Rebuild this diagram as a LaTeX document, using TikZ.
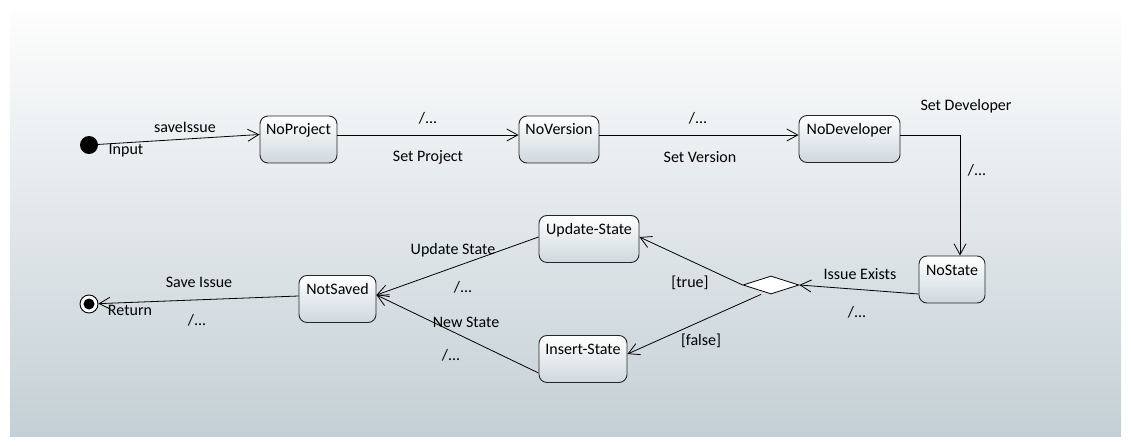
\documentclass[tikz,border=0pt]{standalone}
\usepackage{fontspec}
\setmainfont{Carlito}
\usetikzlibrary{arrows.meta,shapes.geometric}
\tikzset{>={Straight Barb[length=11pt,width=12pt]}}
\definecolor{bgtop}{RGB}{253,253,253}
\definecolor{bgbot}{RGB}{196,208,214}
\definecolor{boxbot}{RGB}{206,216,221}
\tikzset{
  statebox/.style={draw=black!85,line width=0.9pt,rounded corners=8pt,top color=white,bottom color=boxbot,
    inner xsep=0pt,inner ysep=4pt,text height=15pt,text depth=24pt},
  choice/.style={diamond,draw,fill=white,line width=0.8pt,minimum width=56pt,minimum height=18pt,inner sep=0pt},
  trans/.style={->,line width=0.8pt},
  lbl/.style={inner sep=0pt}
}

\begin{document}
\begin{tikzpicture}[x=1pt,y=-1pt,font=\fontsize{16}{19}\selectfont]

\useasboundingbox (0,0) rectangle (1131,446);
\shade[top color=bgtop,bottom color=bgbot] (10,13) rectangle (1121,436);

  % states
  \node[circle,fill=black,minimum size=18pt,inner sep=0pt] (init) at (89,145) {};
  \node[statebox,minimum width=77pt] (noproject) at (298.5,139.5) {NoProject};
  \node[statebox,minimum width=80pt] (noversion) at (559,139.5) {NoVersion};
  \node[statebox,minimum width=101pt] (nodev) at (849.5,139) {NoDeveloper};
  \node[statebox,minimum width=66pt] (nostate) at (952,279.5) {NoState};
  \node[choice] (dec) at (771,285) {};
  \node[statebox,minimum width=100pt] (update) at (589,239) {Update-State};
  \node[statebox,minimum width=88pt] (insert) at (583,359) {Insert-State};
  \node[statebox,minimum width=77pt] (notsaved) at (337.5,299) {NotSaved};
  \node[circle,draw,fill=white,line width=0.9pt,minimum size=18pt,inner sep=0pt] (final) at (89,304) {};
  \fill (final.center) circle (5.5pt);

  % transitions
  \draw[trans] (init) -- ([yshift=5pt]noproject.west);
  \draw[trans] ([yshift=4.5pt]noproject.east) -- ([yshift=4.5pt]noversion.west);
  \draw[trans] ([yshift=4.5pt]noversion.east) -- ([yshift=4pt]nodev.west);
  \draw[trans] ([yshift=4pt]nodev.east) -| ([xshift=8pt]nostate.north);
  \draw[trans] ([yshift=-14.5pt]nostate.west) -- (dec.east);
  \draw[trans] (dec.west) -- ([yshift=2pt]update.east);
  \draw[trans] ([xshift=-10pt]dec.south) -- ([yshift=5pt]insert.east);
  \draw[trans] ([yshift=2pt]update.west) -- ([yshift=4pt]notsaved.east);
  \draw[trans] ([yshift=-14pt]insert.west) -- ([yshift=4pt]notsaved.east);
  \draw[trans] ([yshift=3pt]notsaved.west) -- (final);

  % labels
  \node[lbl] (lsave) at (185,127) {saveIssue};
  \node[lbl] (linput) at (126,151) {Input};
  \node[lbl] (lproja) at (428,118) {/...};
  \node[lbl] (lprojb) at (428,157) {Set Project};
  \node[lbl] (lvera) at (698,118) {/...};
  \node[lbl] (lverb) at (700,157) {Set Version};
  \node[lbl] (ldeva) at (966,106) {Set Developer};
  \node[lbl] (ldevb) at (977,170) {/...};
  \node[lbl] (lexa) at (860,274) {Issue Exists};
  \node[lbl] (lexb) at (857,312) {/...};
  \node[lbl] (ltrue) at (690,283) {[true]};
  \node[lbl] (lfalse) at (701,341) {[false]};
  \node[lbl] (lupda) at (453,250) {Update State};
  \node[lbl] (lupdb) at (463,287) {/...};
  \node[lbl] (lnewa) at (466,322) {New State};
  \node[lbl] (lnewb) at (451,355) {/...};
  \node[lbl] (lsavea) at (199,282) {Save Issue};
  \node[lbl] (lsaveb) at (197,320) {/...};
  \node[lbl] (lret) at (130,310) {Return};

  \end{tikzpicture}
\end{document}
